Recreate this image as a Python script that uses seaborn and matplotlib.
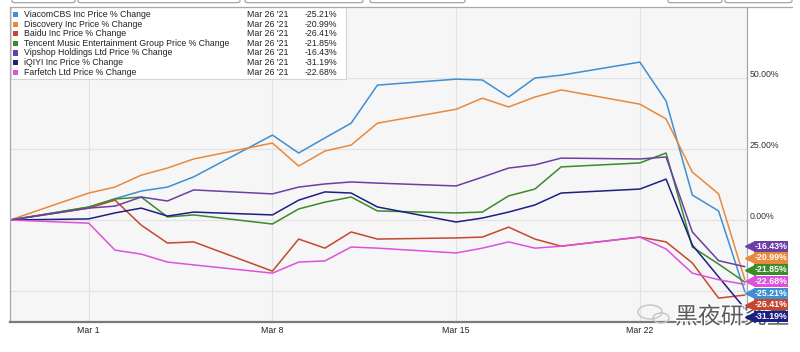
#!/usr/bin/env python3
"""
Price % change of seven US-listed stocks, Feb 26 - Mar 26 2021,
redrawn in the style of a YCharts comparison chart.
"""

import matplotlib

matplotlib.use("Agg")
import matplotlib.patheffects as pe
import matplotlib.pyplot as plt
import pandas as pd
import seaborn as sns
from matplotlib import transforms as mtransforms
from matplotlib.lines import Line2D
from matplotlib.patches import Ellipse, FancyBboxPatch, Rectangle

# ---- data ----
dates = [
    "2021-02-26",
    "2021-03-01", "2021-03-02", "2021-03-03", "2021-03-04", "2021-03-05",
    "2021-03-08", "2021-03-09", "2021-03-10", "2021-03-11", "2021-03-12",
    "2021-03-15", "2021-03-16", "2021-03-17", "2021-03-18", "2021-03-19",
    "2021-03-22", "2021-03-23", "2021-03-24", "2021-03-25", "2021-03-26",
]

series_names = [
    "ViacomCBS Inc Price % Change",
    "Discovery Inc Price % Change",
    "Baidu Inc Price % Change",
    "Tencent Music Entertainment Group Price % Change",
    "Vipshop Holdings Ltd Price % Change",
    "iQIYI Inc Price % Change",
    "Farfetch Ltd Price % Change",
]

viacom = [0, 4.5, 7.5, 10.2, 11.6, 15.2, 29.9, 23.6, 28.9, 34.1, 47.5,
          49.6, 49.3, 43.3, 50.0, 51.0, 55.6, 41.9, 8.8, 3.2, -25.21]
discovery = [0, 9.5, 11.6, 15.8, 18.3, 21.5, 27.1, 19.0, 24.3, 26.4, 34.1,
             39.0, 42.9, 39.8, 43.3, 45.8, 40.8, 35.6, 16.9, 9.2, -20.99]
baidu = [0, 4.2, 7.0, -1.8, -8.1, -7.7, -18.0, -6.7, -9.9, -4.2, -6.7,
         -6.3, -6.0, -2.5, -6.7, -9.2, -6.0, -7.7, -15.1, -27.5, -26.41]
tencent = [0, 4.6, 7.4, 8.1, 1.1, 1.8, -1.4, 3.9, 6.3, 8.1, 3.2,
           2.5, 2.8, 8.5, 10.9, 18.7, 20.1, 23.6, -9.5, -15.5, -21.85]
vipshop = [0, 4.2, 4.9, 8.1, 6.7, 10.6, 9.2, 11.6, 12.7, 13.4, 13.0,
           12.0, 15.1, 18.3, 19.4, 21.8, 21.5, 22.2, -4.2, -14.3, -16.43]
iqiyi = [0, 0.4, 2.5, 4.2, 1.4, 2.8, 1.8, 7.0, 9.9, 9.5, 4.6,
         -0.7, 0.7, 2.8, 5.3, 9.5, 10.9, 14.4, -8.8, -20.0, -31.19]
farfetch = [0, -1.1, -10.6, -12.0, -14.8, -15.8, -18.7, -14.8, -14.4, -9.5, -9.9,
            -11.6, -9.9, -7.7, -9.9, -9.2, -6.0, -10.2, -18.7, -21.0, -22.68]

line_colors = ["#3f8fd2", "#e8893c", "#c4472f", "#3b8a2c", "#6b3fa3", "#1d1f82", "#dc52dc"]

legend_date = "Mar 26 '21"
y_grid_values = [-25, 0, 25, 50]
y_label_values = [0, 25, 50]
x_tick_dates = ["2021-03-01", "2021-03-08", "2021-03-15", "2021-03-22"]
x_tick_labels = ["Mar 1", "Mar 8", "Mar 15", "Mar 22"]
watermark = "黑夜研究室"

W, H = 800, 352


def fx(px):
    return px / W


def fy(py):
    return 1 - py / H


sns.set_style("whitegrid")
plt.rcParams["font.family"] = ["Liberation Sans", "DejaVu Sans"]

all_values = [viacom, discovery, baidu, tencent, vipshop, iqiyi, farfetch]
df = pd.concat(
    [
        pd.DataFrame({"date": pd.to_datetime(dates), "change": vals, "series": name})
        for name, vals in zip(series_names, all_values)
    ],
    ignore_index=True,
)
palette = dict(zip(series_names, line_colors))

fig = plt.figure(figsize=(W / 100, H / 100), dpi=100)
fig.patch.set_facecolor("white")
ax = fig.add_axes([fx(10), 30 / H, 737 / W, 315 / H])
ax.set_facecolor("#f6f6f6")

sns.lineplot(
    data=df, x="date", y="change", hue="series", hue_order=series_names,
    palette=palette, linewidth=1.1, legend=False, ax=ax,
)

ax.set_xlim(pd.Timestamp(dates[0]), pd.Timestamp(dates[-1]) + pd.Timedelta(hours=2))
ax.set_ylim(-35.9, 75.0)
ax.set_xlabel("")
ax.set_ylabel("")
ax.set_xticks(pd.to_datetime(x_tick_dates))
ax.set_xticklabels(x_tick_labels)
ax.set_yticks(y_grid_values)
ax.set_yticklabels([])
ax.tick_params(axis="x", length=0, pad=3, labelsize=6.3, labelcolor="#222222")
ax.tick_params(axis="y", length=0)
ax.grid(True, color="#e2e2e2", linewidth=0.8)

for side in ["left", "right"]:
    ax.spines[side].set_color("#a8a8a8")
    ax.spines[side].set_linewidth(0.9)
ax.spines["bottom"].set_color("#7a7a7a")
ax.spines["bottom"].set_linewidth(1.6)
ax.spines["top"].set_visible(False)

# right-hand percent labels sitting just above their grid lines
lbl_trans = mtransforms.offset_copy(ax.get_yaxis_transform(), fig=fig, x=3, y=1, units="dots")
for v in y_label_values:
    ax.text(1.0, v, f"{v:.2f}%", transform=lbl_trans, ha="left", va="baseline",
            fontsize=6.3, color="#333333", clip_on=False)

# watermark (outline chat-bubble icon plus account name), kept under the tags
for cx, cy, w, h in [(650, 312, 24, 14), (661, 318, 16, 10)]:
    ax.add_artist(Ellipse((fx(cx), fy(cy)), fx(w), h / H, facecolor="none",
                          edgecolor="#c4c4c4", linewidth=1.0, clip_on=False,
                          transform=fig.transFigure, zorder=4))
ax.text(fx(675), fy(317), watermark, fontsize=16.5, color="#5c5c5c",
        family=["Noto Sans CJK SC", "DejaVu Sans"], va="center", ha="left",
        transform=fig.transFigure, clip_on=False, zorder=5,
        path_effects=[pe.withStroke(linewidth=1.8, foreground="white")])

# coloured end-value tags, stacked so they do not overlap
px_per_unit = 315 / (75.0 + 35.9)
gap = 11.7 / px_per_unit
floor = -35.9 + 5.5 / px_per_unit
ends = sorted(
    [(vals[-1], col) for vals, col in zip(all_values, line_colors)],
    key=lambda t: -t[0],
)
pos = [e[0] for e in ends]
for i in range(1, len(pos)):
    pos[i] = min(pos[i], pos[i - 1] - gap)
pos[-1] = max(pos[-1], floor)
for i in range(len(pos) - 2, -1, -1):
    pos[i] = max(pos[i], pos[i + 1] + gap)

tag_trans = mtransforms.offset_copy(ax.get_yaxis_transform(), fig=fig, x=24, y=0, units="dots")
tri_trans = mtransforms.offset_copy(ax.get_yaxis_transform(), fig=fig, x=3, y=0, units="dots")
for (val, col), p in zip(ends, pos):
    ax.plot([1.0], [p], marker="<", markersize=6.5, color=col, transform=tri_trans,
            clip_on=False, zorder=6)
    ax.text(1.0, p, f"{val:.2f}%", transform=tag_trans, ha="center", va="center",
            fontsize=6.3, fontweight="bold", color="white", clip_on=False, zorder=7,
            bbox=dict(boxstyle="square,pad=0.12", facecolor=col, edgecolor="none"))

# top border line and cut-off toolbar boxes
fig.add_artist(Line2D([fx(10), fx(792)], [fy(7), fy(7)], color="#a8a8a8", linewidth=0.9))
for x0, x1 in [(12, 75), (78, 240), (245, 363), (370, 465), (668, 722), (725, 792)]:
    fig.add_artist(FancyBboxPatch(
        (fx(x0), fy(2.7)), fx(x1 - x0), 12 / H,
        boxstyle="round,pad=0,rounding_size=0.004", facecolor="white",
        edgecolor="#9a9a9a", linewidth=0.8, transform=fig.transFigure,
    ))

# legend table in the top-left corner
fig.add_artist(Rectangle((fx(10.5), fy(79)), fx(335), 72 / H, facecolor="white",
                         edgecolor="#d4d4d4", linewidth=0.8, transform=fig.transFigure))
for i, (name, vals, col) in enumerate(zip(series_names, all_values, line_colors)):
    y = fy(14.5 + 9.6 * i)
    fig.add_artist(Rectangle((fx(13), y - 2.6 / H), fx(5.2), 5.2 / H, facecolor=col,
                             edgecolor="none", transform=fig.transFigure))
    fig.text(fx(24), y, name, fontsize=6.3, color="#222222", va="center", ha="left")
    fig.text(fx(247), y, legend_date, fontsize=6.3, color="#222222", va="center", ha="left")
    fig.text(fx(337), y, f"{vals[-1]:.2f}%", fontsize=6.3, color="#222222",
             va="center", ha="right")

fig.savefig("out.png", dpi=100)
